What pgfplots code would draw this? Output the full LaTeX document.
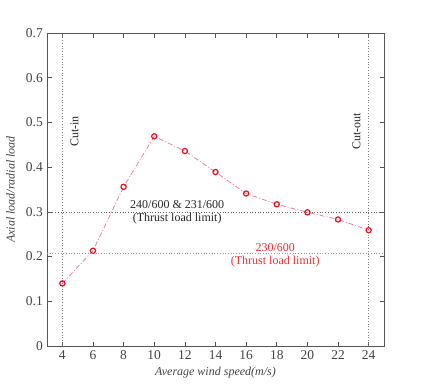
\documentclass[border=0pt]{standalone}
\usepackage{pgfplots}
\pgfplotsset{compat=1.18}
\usepackage{fontspec}
\setmainfont{Liberation Serif}
\definecolor{axgray}{HTML}{555555}
\definecolor{pinkline}{HTML}{F07AAE}
\definecolor{redmark}{HTML}{E8101E}
\definecolor{redtxt}{HTML}{E8303A}
\begin{document}
\begin{tikzpicture}
\fontsize{12}{14}\selectfont
\begin{axis}[
  scale only axis,
  width=337pt, height=313pt,
  xmin=3, xmax=25, ymin=0, ymax=0.7,
  xtick={4,6,...,24},
  ytick={0,0.1,...,0.7},
  yticklabel style={/pgf/number format/fixed,/pgf/number format/precision=1},
  /pgf/number format/assume math mode=true,
  tick align=inside,
  major tick length=4.5pt,
  axis line style={axgray, line width=0.8pt},
  tick style={axgray, line width=0.6pt},
  ticklabel style={font=\fontsize{13.5}{15}\selectfont, text=axgray!80!black},
  xlabel={\textit{Average wind speed(m/s)}},
  ylabel={\textit{Axial load/radial load}},
  label style={font=\fontsize{12}{14}\selectfont, text=axgray!80!black},
  xlabel style={yshift=0pt},
  ylabel style={yshift=3pt},
  clip=false,
]
\addplot[gray, dotted, line width=0.7pt] coordinates {(4,0) (4,0.7)};
\addplot[gray, dotted, line width=0.7pt] coordinates {(24,0) (24,0.7)};
\addplot[gray!80!black, dotted, line width=0.7pt] coordinates {(3,0.3) (25,0.3)};
\addplot[redtxt!70, dotted, line width=0.7pt] coordinates {(3,0.207) (25,0.207)};
\addplot[pinkline, dash pattern=on 5pt off 2pt on 1pt off 2pt, line width=0.8pt, mark=o,
  mark options={solid, redmark, line width=1.2pt, scale=1.3}] coordinates {
  (4,0.140) (6,0.213) (8,0.356) (10,0.469) (12,0.436) (14,0.389)
  (16,0.341) (18,0.317) (20,0.299) (22,0.283) (24,0.259)};
\node[rotate=90, text=black!85] at (axis cs:4.8,0.48) {Cut-in};
\node[rotate=90, text=black!85] at (axis cs:23.2,0.48) {Cut-out};
\node[align=center, text=black!85, font=\fontsize{12}{13}\selectfont] at (axis cs:11.5,0.300) {240/600 \& 231/600\\(Thrust load limit)};
\node[align=center, text=redtxt, font=\fontsize{12}{13}\selectfont] at (axis cs:17.9,0.202) {230/600\\(Thrust load limit)};
\end{axis}
\pgfresetboundingbox
\path (current axis.south west) ++(-47pt,-42pt) rectangle ++(425pt,388pt);
\end{tikzpicture}
\end{document}
